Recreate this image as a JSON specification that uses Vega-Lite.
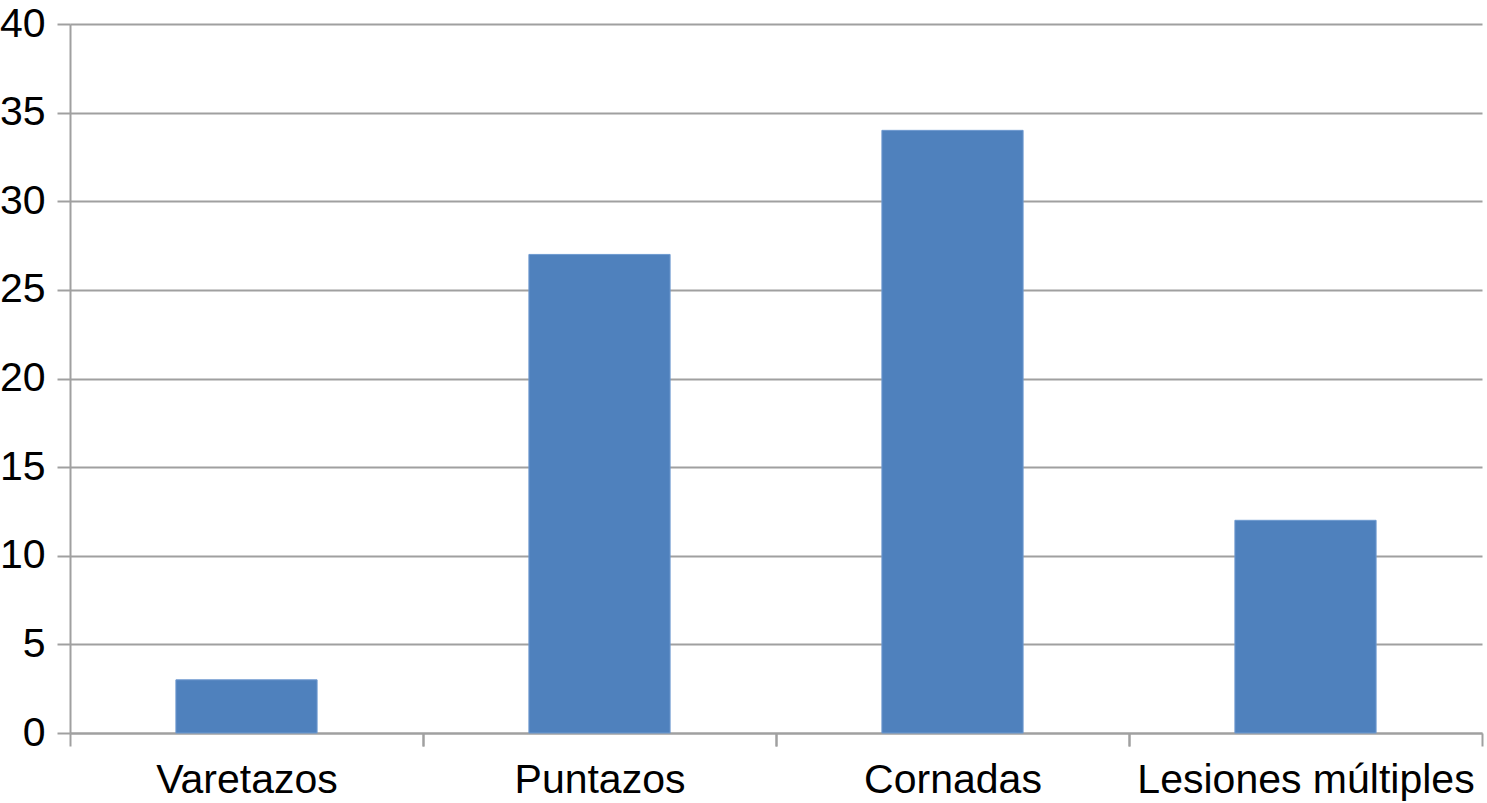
{
  "$schema": "https://vega.github.io/schema/vega-lite/v6.json",
  "autosize": "none",
  "width": 1412,
  "height": 709,
  "padding": {"left": 70, "top": 24, "right": 5, "bottom": 70},
  "background": "white",
  "data": {
    "values": [
      {"category": "Varetazos", "value": 3},
      {"category": "Puntazos", "value": 27},
      {"category": "Cornadas", "value": 34},
      {"category": "Lesiones múltiples", "value": 12}
    ]
  },
  "resolve": {"axis": {"x": "independent"}},
  "layer": [
    {
      "mark": {"type": "bar", "color": "#4F81BD", "stroke": "#6f9ad0", "strokeWidth": 1},
      "encoding": {
        "x": {
          "field": "category",
          "type": "nominal",
          "sort": null,
          "scale": {"paddingInner": 0.6, "paddingOuter": 0.3},
          "axis": {
            "orient": "bottom",
            "title": null,
            "labelAngle": 0,
            "labelFont": "Liberation Sans",
            "labelFontSize": 41,
            "labelColor": "#000000",
            "labelPadding": 14,
            "labelLimit": 0,
            "tickOffset": -176.5,
            "labelOffset": 176.5,
            "tickSize": 13,
            "tickWidth": 2,
            "tickColor": "#a0a0a0",
            "domainColor": "#a0a0a0",
            "domainWidth": 2,
            "grid": false
          }
        },
        "y": {
          "field": "value",
          "type": "quantitative",
          "scale": {"domain": [0, 40], "nice": false},
          "axis": {
            "title": null,
            "values": [0, 5, 10, 15, 20, 25, 30, 35, 40],
            "labelFont": "Liberation Sans",
            "labelFontSize": 41,
            "labelColor": "#000000",
            "labelPadding": 12,
            "tickSize": 13,
            "tickWidth": 2,
            "tickColor": "#a0a0a0",
            "domainColor": "#a0a0a0",
            "domainWidth": 2,
            "grid": true,
            "gridColor": "#a0a0a0",
            "gridWidth": 2
          }
        }
      }
    },
    {
      "mark": {"type": "bar", "opacity": 0},
      "encoding": {
        "x": {
          "field": "category",
          "type": "nominal",
          "sort": null,
          "axis": {
            "orient": "bottom",
            "title": null,
            "labels": false,
            "domain": false,
            "tickOffset": 176.5,
            "tickSize": 13,
            "tickWidth": 2,
            "tickColor": "#a0a0a0",
            "grid": false
          }
        },
        "y": {"field": "value", "type": "quantitative"}
      }
    }
  ],
  "config": {"view": {"stroke": null}}
}
